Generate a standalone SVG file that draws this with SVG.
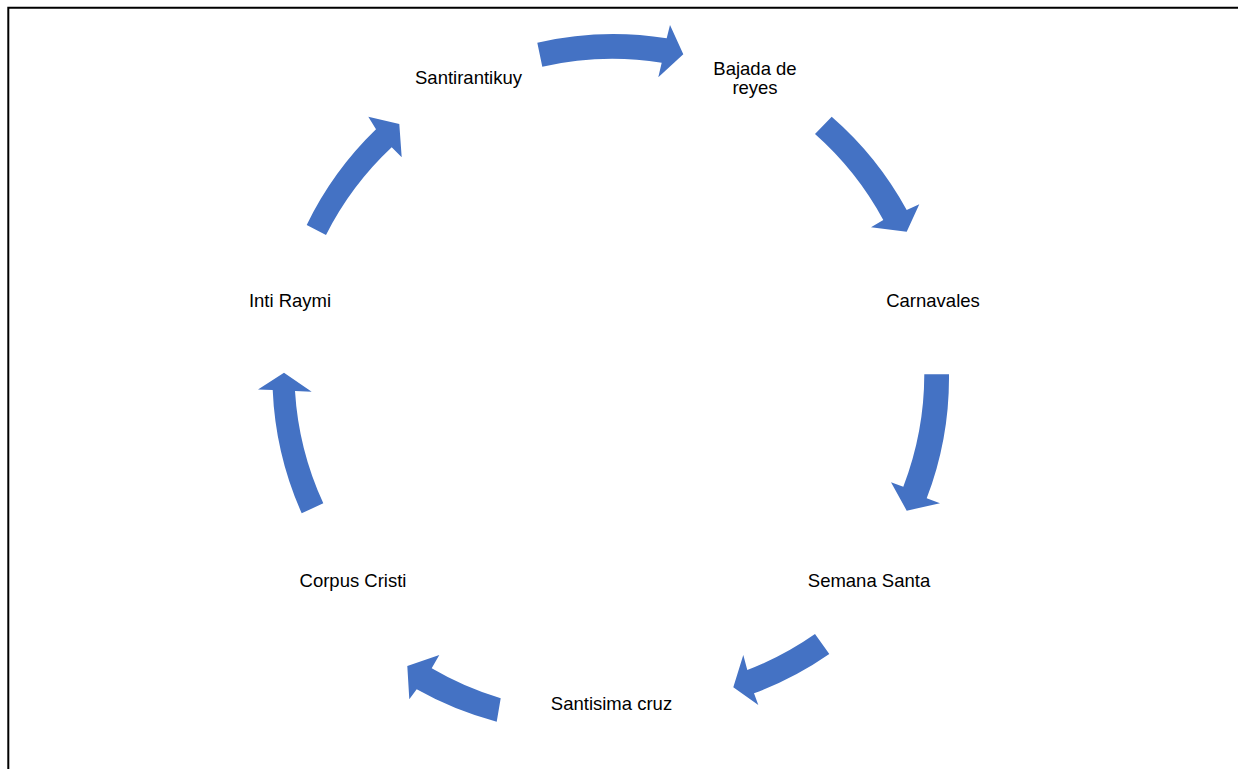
<svg xmlns="http://www.w3.org/2000/svg" width="1238" height="769" viewBox="0 0 1238 769">
<style>
.arr{fill:#4472C4;stroke:none}
.lbl{font-family:"Liberation Sans",Arial,sans-serif;font-size:18.5px;fill:#000;text-anchor:middle}
.frame{stroke:#000;stroke-width:2;fill:none}
</style>
<rect width="1238" height="769" fill="#fff"/>
<path class="frame" d="M8.3 769 V7.7 H1238"/>
<g id="connectors">
<path class="arr" d="M537.3 42.7 A338 338 0 0 1 666.7 38.3 L670 25 L683.3 54.3 L658.3 77.3 L661.7 62.7 A314 314 0 0 0 542.3 66.7 Z"/>
<path class="arr" d="M831.7 116.7 A338 338 0 0 1 906.7 210 L919.3 204.3 L906.7 231.7 L871 227.3 L883.3 220 A314 314 0 0 0 815 134 Z"/>
<path class="arr" d="M949 374.3 A338 338 0 0 1 926.7 498.3 L940 503.3 L906.7 510.7 L891 482.3 L903.3 486.7 A314 314 0 0 0 924.3 374.3 Z"/>
<path class="arr" d="M829.3 654 A338 338 0 0 1 754 693.3 L758.3 705 L733.3 687.3 L743.3 655 L747.3 670 A314 314 0 0 0 815 634 Z"/>
<path class="arr" d="M496.7 721.7 A338 338 0 0 1 416.7 689.3 L409.3 699.3 L407.3 666 L439.3 655 L431.7 668.3 A314 314 0 0 0 500.7 698.3 Z"/>
<path class="arr" d="M301.7 513.3 A338 338 0 0 1 272.7 390 L258 389.5 L284 372.7 L311.7 391.7 L295 391 A314 314 0 0 0 323.3 503.3 Z"/>
<path class="arr" d="M306.7 225 A338 338 0 0 1 376 129.3 L368.3 116.7 L399.3 124 L401.7 157.3 L391.7 147.3 A314 314 0 0 0 326 235 Z"/>
</g>
<g id="node-santirantikuy"><text class="lbl" x="468.5" y="83.5">Santirantikuy</text></g>
<g id="node-bajada"><text class="lbl" x="755" y="74.5">Bajada de</text><text class="lbl" x="755" y="93.5">reyes</text></g>
<g id="node-carnavales"><text class="lbl" x="933" y="306.5">Carnavales</text></g>
<g id="node-semana-santa"><text class="lbl" x="869" y="586.5">Semana Santa</text></g>
<g id="node-santisima-cruz"><text class="lbl" x="611.5" y="709.5">Santisima cruz</text></g>
<g id="node-corpus-cristi"><text class="lbl" x="353" y="586.5">Corpus Cristi</text></g>
<g id="node-inti-raymi"><text class="lbl" x="290" y="306.5">Inti Raymi</text></g>
</svg>
